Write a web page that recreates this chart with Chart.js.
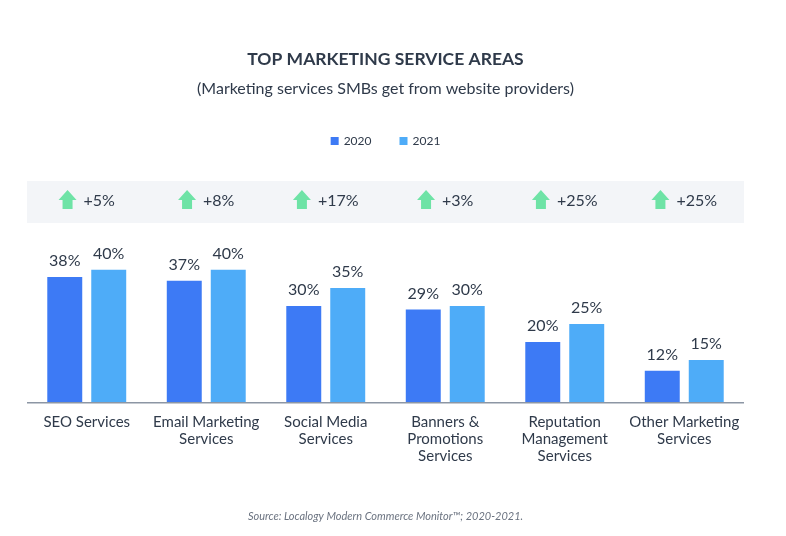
<!DOCTYPE html>
<html>
<head>
<meta charset="utf-8">
<script src="https://cdn.jsdelivr.net/npm/chart.js@4.4.1/dist/chart.umd.min.js"></script>
<style>
  html, body { margin: 0; padding: 0; background: #ffffff; }
  #wrap { width: 786px; height: 536px; position: relative; }
</style>
</head>
<body>
<div id="wrap"><canvas id="c" width="786" height="536"></canvas></div>
<script>
const categories = [
  ['SEO Services'],
  ['Email Marketing', 'Services'],
  ['Social Media', 'Services'],
  ['Banners &', 'Promotions', 'Services'],
  ['Reputation', 'Management', 'Services'],
  ['Other Marketing', 'Services']
];
const seriesNames = ['2020', '2021'];
const values2020 = [38, 37, 30, 29, 20, 12];
const values2021 = [40, 40, 35, 30, 25, 15];
const changeLabels = ['+5%', '+8%', '+17%', '+3%', '+25%', '+25%'];
const titleText = 'TOP MARKETING SERVICE AREAS';
const subtitleText = '(Marketing services SMBs get from website providers)';
const sourceText = 'Source: Localogy Modern Commerce Monitor\u2122; 2020-2021.';

const FONT = 'Lato, "Noto Sans", sans-serif';
const TEXT = '#2f3a4a';
const C2020 = '#3d7af5';
const C2021 = '#4eacf8';

const decor = {
  id: 'decor',
  beforeDraw(chart) {
    const ctx = chart.ctx;
    const a = chart.chartArea;
    const x = chart.scales.x;
    ctx.save();
    // band
    ctx.fillStyle = '#f3f5f8';
    ctx.fillRect(a.left, 181, a.right - a.left, 42);
    const cx = (a.left + a.right) / 2;
    // title
    ctx.fillStyle = TEXT;
    ctx.textAlign = 'center';
    ctx.textBaseline = 'middle';
    ctx.font = 'bold 17.5px ' + FONT;
    ctx.fillText(titleText, cx, 59);
    ctx.font = '16px ' + FONT;
    ctx.fillText(subtitleText, cx, 89);
    // legend
    ctx.font = '12px ' + FONT;
    const items = [[seriesNames[0], C2020], [seriesNames[1], C2021]];
    const widths = items.map(it => 8 + 5 + ctx.measureText(it[0]).width);
    const gap = 28;
    let lx = cx - (widths[0] + widths[1] + gap) / 2;
    ctx.textAlign = 'left';
    items.forEach((it, i) => {
      ctx.fillStyle = it[1];
      ctx.fillRect(lx, 137, 8, 8);
      ctx.fillStyle = TEXT;
      ctx.fillText(it[0], lx + 13, 141.5);
      lx += widths[i] + gap;
    });
    // change arrows
    ctx.font = '16px ' + FONT;
    changeLabels.forEach((lbl, i) => {
      const px = x.getPixelForValue(i);
      const tw = ctx.measureText(lbl).width;
      const gw = 18 + 7 + tw;
      const ax = px - gw / 2;
      const am = ax + 9;
      ctx.fillStyle = '#6ee3a6';
      ctx.beginPath();
      ctx.moveTo(am, 190);
      ctx.lineTo(ax + 18, 200);
      ctx.lineTo(am + 5, 200);
      ctx.lineTo(am + 5, 209);
      ctx.lineTo(am - 5, 209);
      ctx.lineTo(am - 5, 200);
      ctx.lineTo(ax, 200);
      ctx.closePath();
      ctx.fill();
      ctx.fillStyle = TEXT;
      ctx.textAlign = 'left';
      ctx.fillText(lbl, ax + 25, 201);
    });
    // source
    ctx.font = 'italic 11px ' + FONT;
    ctx.fillStyle = '#6b7380';
    ctx.textAlign = 'center';
    ctx.fillText(sourceText, cx, 516);
    ctx.restore();
  },
  afterDatasetsDraw(chart) {
    const ctx = chart.ctx;
    ctx.save();
    ctx.font = '16px ' + FONT;
    ctx.fillStyle = TEXT;
    ctx.textAlign = 'center';
    ctx.textBaseline = 'bottom';
    chart.data.datasets.forEach((ds, di) => {
      const meta = chart.getDatasetMeta(di);
      meta.data.forEach((bar, i) => {
        ctx.fillText(ds.data[i] + '%', bar.x, bar.y - 8);
      });
    });
    // baseline
    const a = chart.chartArea;
    ctx.strokeStyle = '#8c96a4';
    ctx.lineWidth = 1.5;
    ctx.beginPath();
    ctx.moveTo(a.left, a.bottom + 0.5);
    ctx.lineTo(a.right, a.bottom + 0.5);
    ctx.stroke();
    ctx.restore();
  }
};

new Chart(document.getElementById('c'), {
  type: 'bar',
  data: {
    labels: categories,
    datasets: [
      { label: seriesNames[0], data: values2020, backgroundColor: C2020, categoryPercentage: 0.736, barPercentage: 0.795 },
      { label: seriesNames[1], data: values2021, backgroundColor: C2021, categoryPercentage: 0.736, barPercentage: 0.795 }
    ]
  },
  options: {
    responsive: false,
    animation: false,
    devicePixelRatio: 1,
    layout: { padding: { top: 232, left: 27, right: 42, bottom: 60 } },
    plugins: { legend: { display: false }, title: { display: false }, tooltip: { enabled: false } },
    scales: {
      x: {
        grid: { display: false, drawTicks: false },
        border: { display: false },
        ticks: { color: TEXT, font: { family: FONT, size: 15, lineHeight: 1.15 }, padding: 11, maxRotation: 0, autoSkip: false }
      },
      y: { display: false, min: 3.3, max: 50.5 }
    }
  },
  plugins: [decor]
});
</script>
</body>
</html>
